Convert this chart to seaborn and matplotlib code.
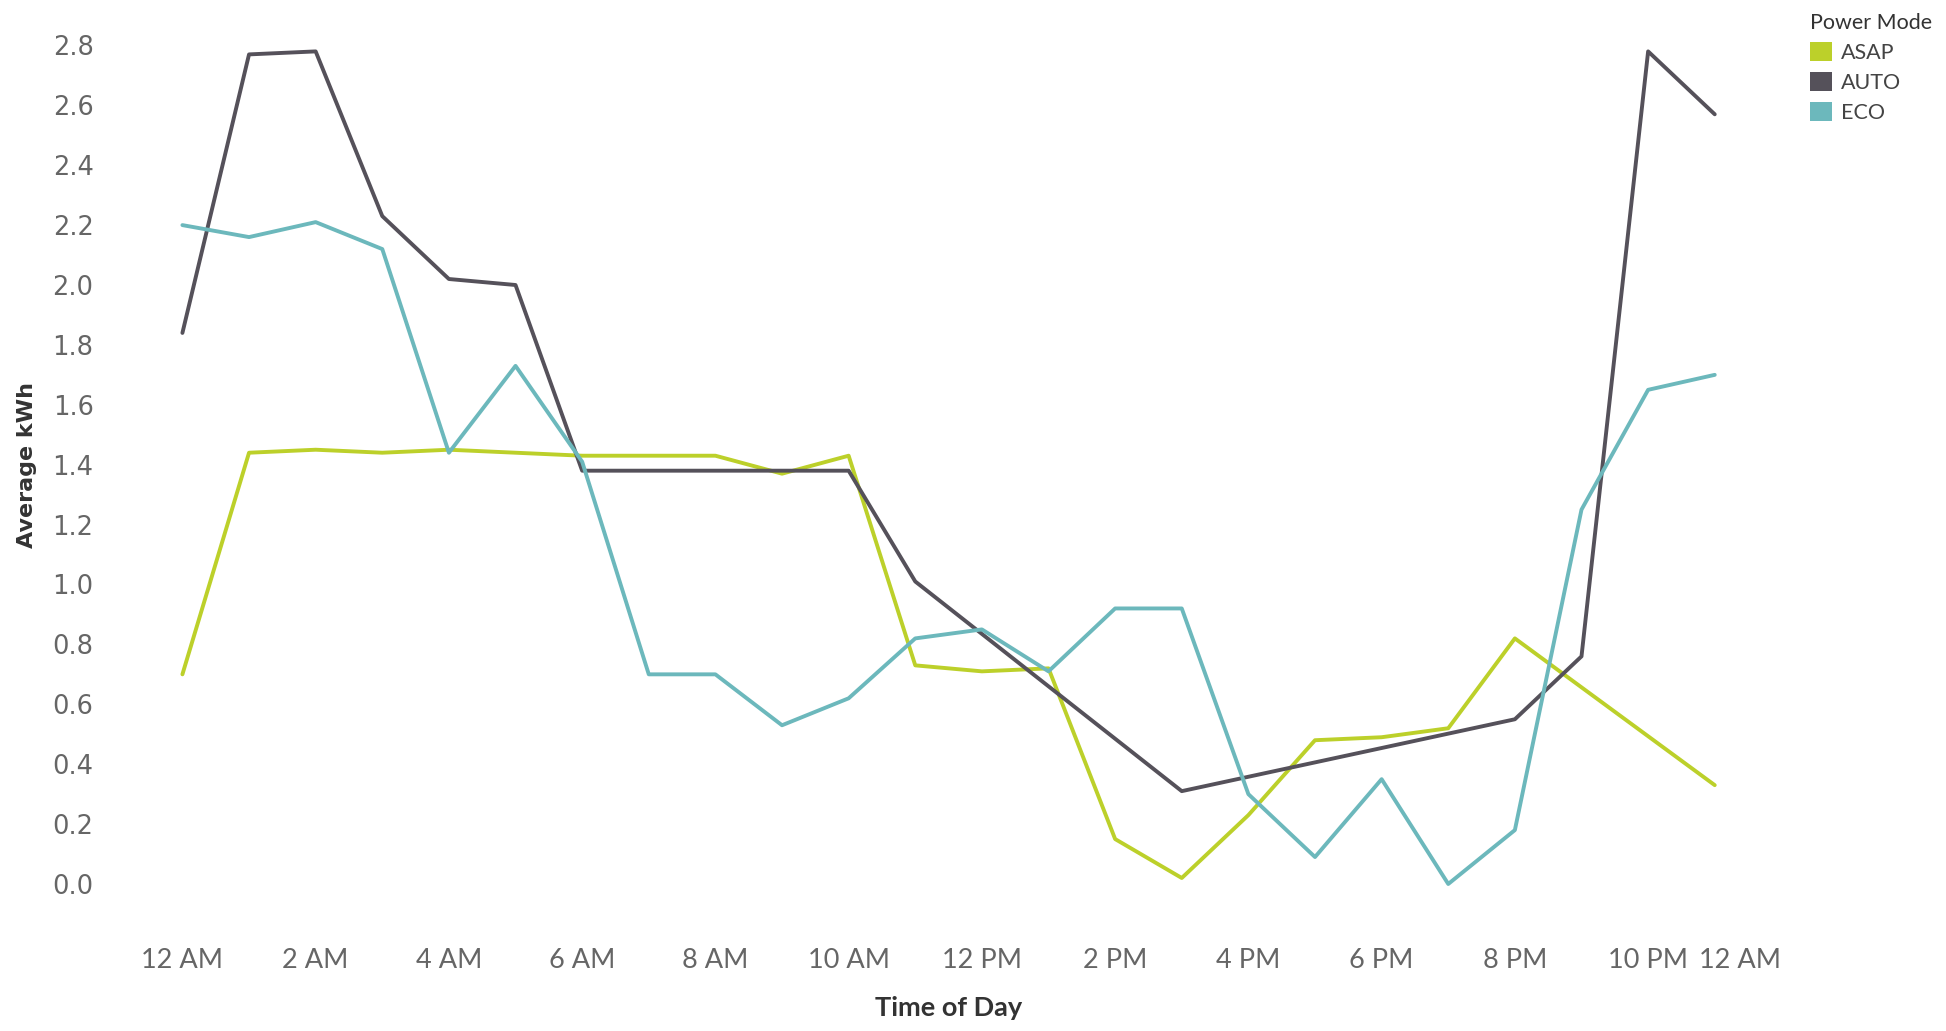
import pandas as pd
import matplotlib.pyplot as plt
import matplotlib.transforms as mtransforms
import seaborn as sns
from matplotlib.patches import Patch

# hourly average kWh per power mode (hours with no data are simply absent)
asap_hours = [0, 1, 2, 3, 4, 5, 6, 7, 8, 9, 10, 11, 12, 13, 14, 15, 16, 17, 18, 19, 20, 23]
asap_kwh = [0.70, 1.44, 1.45, 1.44, 1.45, 1.44, 1.43, 1.43, 1.43, 1.37, 1.43,
            0.73, 0.71, 0.72, 0.15, 0.02, 0.23, 0.48, 0.49, 0.52, 0.82, 0.33]

auto_hours = [0, 1, 2, 3, 4, 5, 6, 7, 8, 9, 10, 11, 15, 20, 21, 22, 23]
auto_kwh = [1.84, 2.77, 2.78, 2.23, 2.02, 2.00, 1.38, 1.38, 1.38, 1.38, 1.38,
            1.01, 0.31, 0.55, 0.76, 2.78, 2.57]

eco_hours = list(range(24))
eco_kwh = [2.20, 2.16, 2.21, 2.12, 1.44, 1.73, 1.41, 0.70, 0.70, 0.53, 0.62, 0.82,
           0.85, 0.71, 0.92, 0.92, 0.30, 0.09, 0.35, 0.00, 0.18, 1.25, 1.65, 1.70]

modes = ['ASAP', 'AUTO', 'ECO']
mode_colors = ['#BCD02A', '#55515A', '#6CB8BC']

tick_hours = [0, 2, 4, 6, 8, 10, 12, 14, 16, 18, 20, 22, 24]
tick_labels = ['12 AM', '2 AM', '4 AM', '6 AM', '8 AM', '10 AM', '12 PM',
               '2 PM', '4 PM', '6 PM', '8 PM', '10 PM', '12 AM']
y_ticks = [0.0, 0.2, 0.4, 0.6, 0.8, 1.0, 1.2, 1.4, 1.6, 1.8, 2.0, 2.2, 2.4, 2.6, 2.8]

df = pd.concat([
    pd.DataFrame({'Hour': asap_hours, 'kWh': asap_kwh, 'Power Mode': 'ASAP'}),
    pd.DataFrame({'Hour': auto_hours, 'kWh': auto_kwh, 'Power Mode': 'AUTO'}),
    pd.DataFrame({'Hour': eco_hours, 'kWh': eco_kwh, 'Power Mode': 'ECO'}),
], ignore_index=True)

sns.set_style("white")
palette = dict(zip(modes, mode_colors))

fig = plt.figure(figsize=(19.46, 10.31), dpi=100)
ax = fig.add_axes([0.0595, 0.0845, 0.8559, 0.9005])

sns.lineplot(data=df, x='Hour', y='kWh', hue='Power Mode', hue_order=modes,
             palette=palette, linewidth=2.8, legend=False, ax=ax)

ax.set_xlim(-1, 24)
ax.set_ylim(-0.2, 2.9)
ax.set_xticks(tick_hours)
ax.set_xticklabels(tick_labels, family='Lato', fontsize=19.5, color='#666666')
# last "12 AM" sits pulled in against the axis end, like the original
last = ax.get_xticklabels()[-1]
last.set_ha('right')
last.set_transform(last.get_transform() +
                   mtransforms.ScaledTranslation(0.1, 0, fig.dpi_scale_trans))
ax.set_yticks(y_ticks)
ax.set_yticklabels([f'{v:.1f}' for v in y_ticks], family='DejaVu Sans',
                   fontsize=18.5, color='#666666')
ax.tick_params(axis='x', length=0, pad=3)
ax.tick_params(axis='y', length=0, pad=16)
ax.set_xlabel('')
ax.set_ylabel('')
sns.despine(ax=ax, left=True, bottom=True)

fig.text(27 / 1946, 1 - 465 / 1031, 'Average kWh', rotation=90, ha='center',
         va='center', family='DejaVu Sans', fontweight='bold', fontsize=16,
         color='#333333')
fig.text(949 / 1946, 1 - 1008 / 1031, 'Time of Day', ha='center', va='center',
         family='Lato', fontweight='bold', fontsize=19.5, color='#333333')

handles = [Patch(facecolor=c, edgecolor='none') for c in mode_colors]
leg = fig.legend(handles, modes, title='Power Mode', loc='upper left',
                 bbox_to_anchor=(1810 / 1946, 1 - 13 / 1031), frameon=False,
                 alignment='left', prop={'family': 'Lato', 'size': 15.5},
                 title_fontproperties={'family': 'Lato', 'size': 15.5},
                 handlelength=1.0, handleheight=1.0, handletextpad=0.45,
                 labelspacing=0.42, borderaxespad=0, borderpad=0)
for t in leg.get_texts():
    t.set_color('#444444')
leg.get_title().set_color('#333333')

plt.savefig('out.png', dpi=100)
